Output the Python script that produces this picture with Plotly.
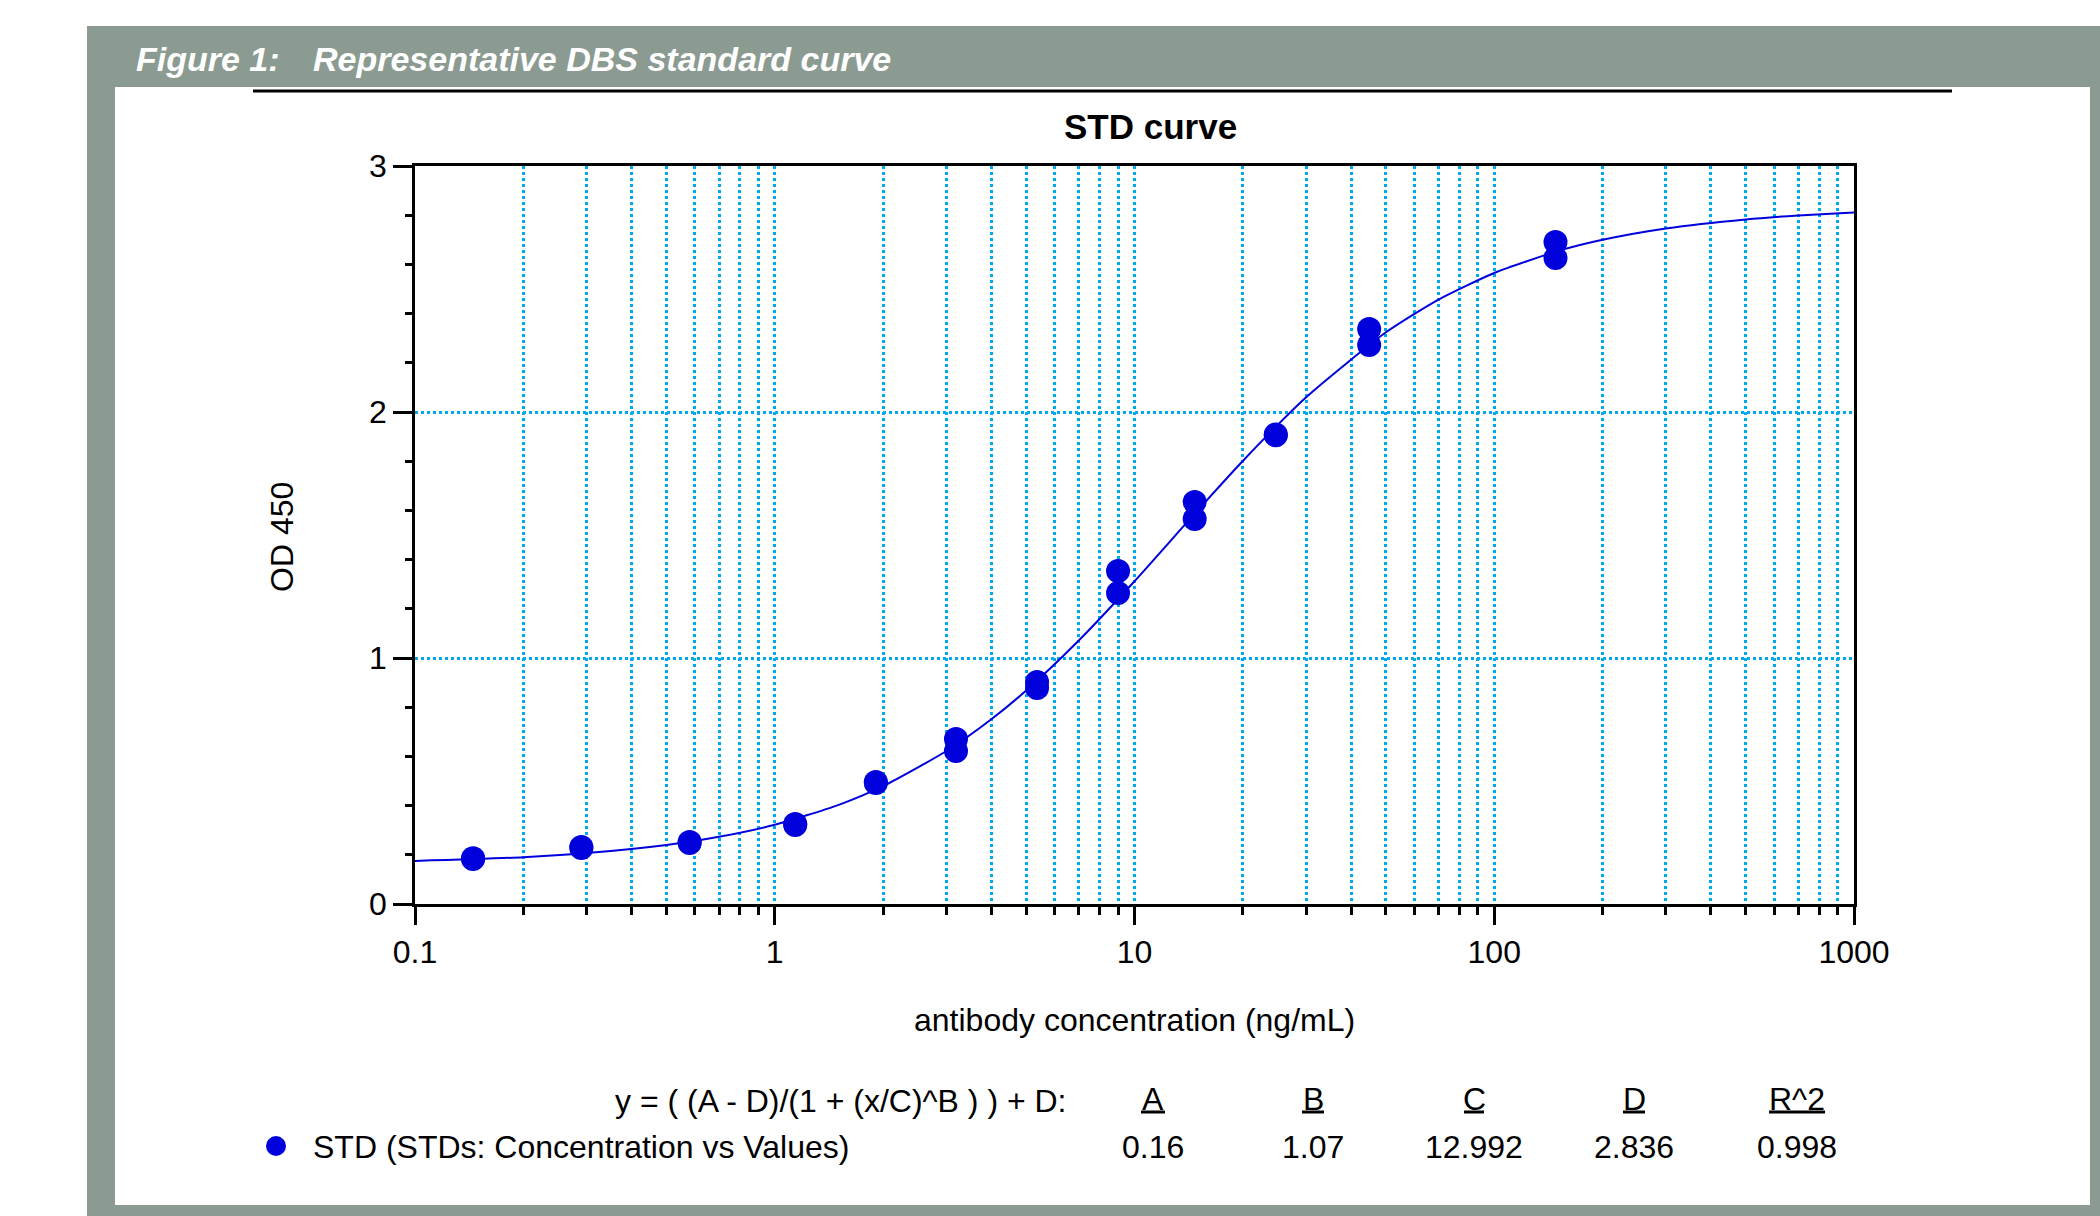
import plotly.graph_objects as go

# ---------------- data ----------------
std_conc = [0.145, 0.145, 0.29, 0.29, 0.58, 0.58, 1.14, 1.14, 1.91, 1.91,
            3.19, 3.19, 5.36, 5.36, 9.0, 9.0, 14.7, 14.7, 24.7, 24.7,
            44.9, 44.9, 148, 148]
std_od = [0.183, 0.186, 0.232, 0.228, 0.252, 0.248, 0.321, 0.325, 0.496, 0.492,
          0.671, 0.622, 0.902, 0.878, 1.354, 1.264, 1.634, 1.565, 1.909, 1.905,
          2.337, 2.272, 2.691, 2.626]

curve_conc = [0.1, 0.2, 0.3, 0.5, 0.7, 1, 1.5, 2, 3, 4, 5, 7, 10, 15, 20, 30,
              50, 70, 100, 150, 200, 300, 500, 700, 1000]
curve_od = [0.175, 0.190, 0.207, 0.240, 0.273, 0.322, 0.402, 0.479, 0.622,
            0.751, 0.868, 1.071, 1.312, 1.601, 1.801, 2.060, 2.324, 2.457,
            2.565, 2.654, 2.700, 2.746, 2.783, 2.799, 2.811]

x_tick_vals = [0.1, 1, 10, 100, 1000]
x_tick_text = ["0.1", "1", "10", "100", "1000"]
x_minor_vals = [m * d for d in [0.1, 1, 10, 100] for m in range(2, 10)]
y_tick_vals = [0, 1, 2, 3]

param_names = ["A", "B", "C", "D", "R^2"]
param_values = ["0.16", "1.07", "12.992", "2.836", "0.998"]

formula_text = "y = ( (A - D)/(1 + (x/C)^B ) ) + D:"
series_label = "STD (STDs: Concentration vs Values)"
fig_title = "Figure 1:"
fig_subtitle = "Representative DBS standard curve"
chart_title = "STD curve"
x_title = "antibody concentration (ng/mL)"
y_title = "OD 450"

# ---------------- layout helpers ----------------
W, H = 2100, 1216


def fx(p):
    return p / W


def fy(p):
    return 1 - p / H


BLUE = "#0000DC"
GRID = "#00A8EC"
FRAME = "#8C9B91"
FONT = "Liberation Sans, Arial, sans-serif"

fig = go.Figure()

fig.add_trace(go.Scatter(
    x=curve_conc, y=curve_od, mode="lines",
    line=dict(color=BLUE, width=2, shape="spline", smoothing=0.6),
    showlegend=False, hoverinfo="skip"))

fig.add_trace(go.Scatter(
    x=std_conc, y=std_od, mode="markers",
    marker=dict(color=BLUE, size=24, line=dict(width=0)),
    name=series_label, showlegend=False))

shapes = [
    dict(type="rect", xref="paper", yref="paper", x0=fx(87), x1=1, y0=0, y1=fy(26),
         fillcolor=FRAME, line=dict(width=0), layer="below"),
    dict(type="rect", xref="paper", yref="paper", x0=fx(115), x1=fx(2090),
         y0=fy(1205), y1=fy(87), fillcolor="white", line=dict(width=0), layer="below"),
    dict(type="line", xref="paper", yref="paper", x0=fx(253), x1=fx(1952),
         y0=fy(91), y1=fy(91), line=dict(color="black", width=3)),
    dict(type="circle", xref="paper", yref="paper", x0=fx(266), x1=fx(286),
         y0=fy(1156), y1=fy(1136), fillcolor=BLUE, line=dict(width=0)),
]

annotations = [
    dict(text="<b><i>" + fig_title + "</i></b>", x=fx(134), y=fy(59),
         xanchor="left", yanchor="middle",
         font=dict(size=34, color="white", family=FONT)),
    dict(text="<b><i>" + fig_subtitle + "</i></b>", x=fx(311), y=fy(59),
         xanchor="left", yanchor="middle",
         font=dict(size=34, color="white", family=FONT)),
    dict(text="<b>" + chart_title + "</b>", x=fx(1150), y=fy(127),
         xanchor="center", yanchor="middle",
         font=dict(size=35, color="black", family=FONT)),
    dict(text=x_title, x=fx(1134), y=fy(1020), xanchor="center", yanchor="middle",
         font=dict(size=32, color="black", family=FONT)),
    dict(text=y_title, x=fx(282), y=fy(537), xanchor="center", yanchor="middle",
         textangle=-90, font=dict(size=32, color="black", family=FONT)),
    dict(text=formula_text, x=fx(1069), y=fy(1101), xanchor="right", yanchor="middle",
         font=dict(size=32, color="black", family=FONT)),
    dict(text=series_label, x=fx(311), y=fy(1147), xanchor="left", yanchor="middle",
         font=dict(size=32, color="black", family=FONT)),
]

col_x = [1153, 1313, 1474, 1634, 1797]
under_half = [12, 11, 10, 11, 28]
for cx, hw, name, val in zip(col_x, under_half, param_names, param_values):
    annotations.append(dict(text=name, x=fx(cx), y=fy(1099), xanchor="center",
                            yanchor="middle",
                            font=dict(size=32, color="black", family=FONT)))
    annotations.append(dict(text=val, x=fx(cx), y=fy(1147), xanchor="center",
                            yanchor="middle",
                            font=dict(size=32, color="black", family=FONT)))
    shapes.append(dict(type="line", xref="paper", yref="paper",
                       x0=fx(cx - hw), x1=fx(cx + hw), y0=fy(1112), y1=fy(1112),
                       line=dict(color="black", width=3)))

for a in annotations:
    a.setdefault("xref", "paper")
    a.setdefault("yref", "paper")
    a["showarrow"] = False

fig.update_layout(
    width=W, height=H,
    margin=dict(l=0, r=0, t=0, b=0, pad=0, autoexpand=False),
    paper_bgcolor="white", plot_bgcolor="white",
    font=dict(family=FONT, size=32, color="black"),
    shapes=shapes, annotations=annotations, showlegend=False,
    xaxis=dict(
        type="log", range=[-1, 3], domain=[fx(415), fx(1854)],
        tickmode="array", tickvals=x_tick_vals, ticktext=x_tick_text,
        ticks="outside", ticklen=18, tickwidth=2.5, tickcolor="black",
        tickfont=dict(size=32, color="black", family=FONT),
        showline=True, linewidth=2.5, linecolor="black", mirror=True,
        showgrid=True, gridcolor=GRID, gridwidth=3, griddash="dot",
        zeroline=False, automargin=False,
        minor=dict(tickmode="array", tickvals=x_minor_vals, ticks="outside",
                   ticklen=8, tickwidth=2.5, tickcolor="black",
                   showgrid=True, gridcolor=GRID, gridwidth=3, griddash="dot"),
    ),
    yaxis=dict(
        range=[0, 3], domain=[fy(904), fy(166)],
        tickmode="array", tickvals=y_tick_vals,
        ticks="outside", ticklen=19, tickwidth=2.5, tickcolor="black",
        tickfont=dict(size=32, color="black", family=FONT),
        showline=True, linewidth=2.5, linecolor="black", mirror=True,
        showgrid=True, gridcolor=GRID, gridwidth=3, griddash="dot",
        zeroline=False, automargin=False,
        minor=dict(dtick=0.2, ticks="outside", ticklen=7, tickwidth=2.5,
                   tickcolor="black", showgrid=False),
    ),
)

fig.write_html("out.html",
               config={"displayModeBar": False},
               post_script="document.body.style.margin='0';document.body.style.overflow='hidden';")
